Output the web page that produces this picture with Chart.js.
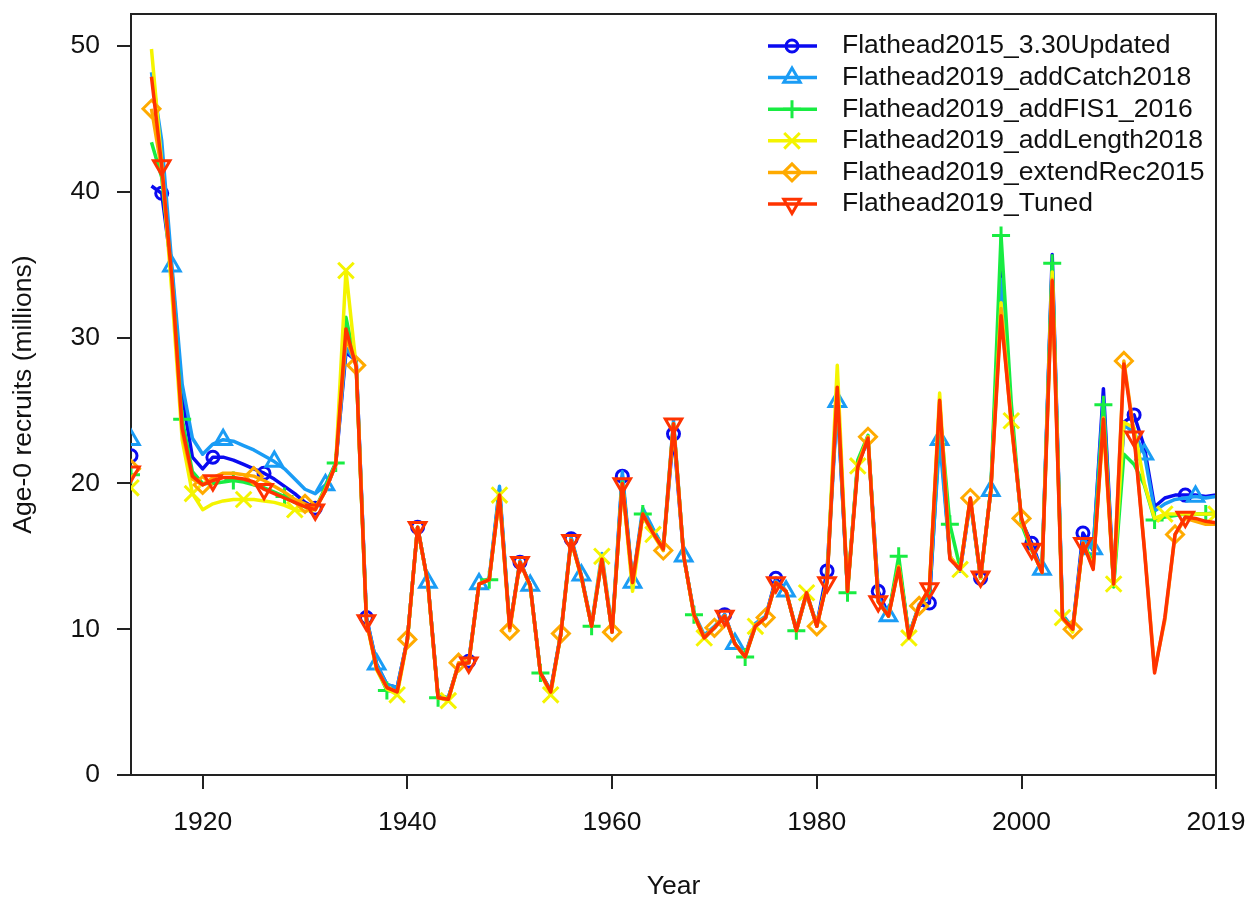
<!DOCTYPE html>
<html>
<head>
<meta charset="utf-8">
<title>Age-0 recruits</title>
<script src="https://cdn.jsdelivr.net/npm/chart.js@4.4.1/dist/chart.umd.min.js"></script>
<style>
  html, body { margin: 0; padding: 0; background: #fff; }
  #wrap { width: 1254px; height: 901px; position: relative; }
</style>
</head>
<body>
<div id="wrap"><canvas id="recruits"></canvas></div>
<script>
// model runs compared
const modelNames = [
  'Flathead2015_3.30Updated',
  'Flathead2019_addCatch2018',
  'Flathead2019_addFIS1_2016',
  'Flathead2019_addLength2018',
  'Flathead2019_extendRec2015',
  'Flathead2019_Tuned'
];

// virgin recruitment is plotted on its own at 1913, the time series starts in 1915
const virginYear = 1913;
const firstYear = 1915;
const virginRec = [21.9, 23.0, 20.6, 19.7, 21.0, 20.8];

// age-0 recruits (millions), 1915-2019
const recUpdated2015 = [
  40.4, 39.9, 34.5, 26.0, 21.8,
  21.0, 21.8, 21.8, 21.6, 21.3, 21.0, 20.7, 20.3, 19.8, 19.3,
  18.7, 18.3, 19.5, 21.3, 29.0, 28.4, 10.8, 7.6, 6.2, 6.0,
  9.3, 17.0, 13.2, 5.4, 5.3, 7.6, 7.8, 13.1, 13.4, 19.6,
  10.1, 14.6, 13.0, 7.0, 5.8, 9.7, 16.2, 13.6, 10.2, 14.9,
  9.8, 20.5, 13.2, 18.0, 16.8, 15.6, 23.4, 15.0, 11.0, 9.5,
  10.1, 11.0, 9.0, 8.2, 10.3, 10.8, 13.5, 12.6, 9.9, 12.4,
  10.3, 14.0, 25.8, 12.7, 21.3, 23.0, 12.6, 11.0, 14.5, 9.6,
  11.6, 11.8, 23.8, 15.0, 14.0, 18.8, 13.5, 19.5, 34.5, 24.5,
  17.4, 15.9, 14.0, 35.7, 11.0, 10.0, 16.6, 15.4, 26.5, 13.2,
  24.2, 24.7, 22.5, 18.4, 19.0, 19.2, 19.2, 19.2, 19.1, 19.2
];
const recAddCatch = [
  48.2, 43.5, 34.9, 26.8, 23.1,
  22.0, 22.7, 23.0, 22.9, 22.6, 22.3, 21.9, 21.5, 21.0, 20.3,
  19.6, 19.3, 19.9, 21.4, 29.3, 28.3, 10.8, 7.6, 6.2, 6.0,
  9.3, 17.0, 13.2, 5.4, 5.3, 7.6, 7.8, 13.1, 13.5, 19.8,
  10.1, 14.7, 13.0, 7.0, 5.8, 9.8, 16.3, 13.7, 10.3, 15.2,
  9.9, 20.8, 13.2, 18.3, 16.9, 15.6, 24.3, 15.0, 11.1, 9.6,
  10.2, 11.0, 9.0, 8.2, 10.4, 10.9, 13.3, 12.6, 10.0, 12.5,
  10.3, 13.5, 25.6, 12.7, 21.4, 23.0, 12.2, 10.9, 14.5, 9.6,
  11.7, 12.3, 23.0, 15.0, 14.0, 18.9, 13.6, 19.5, 34.0, 24.6,
  17.4, 15.6, 14.1, 35.0, 11.0, 10.1, 16.2, 15.5, 25.8, 13.0,
  24.0, 23.5, 22.0, 18.1, 18.6, 18.9, 19.0, 19.1, 19.0, 19.1
];
const recAddFIS = [
  43.4, 41.0, 34.0, 24.4, 20.8,
  20.0, 20.0, 20.1, 20.2, 20.1, 19.9, 19.7, 19.4, 19.1, 18.7,
  18.4, 18.2, 19.8, 21.4, 31.4, 28.0, 10.6, 7.3, 5.8, 5.7,
  9.3, 17.0, 13.2, 5.3, 5.2, 7.6, 7.7, 13.1, 13.4, 19.3,
  10.1, 14.6, 13.0, 7.0, 5.7, 9.7, 16.1, 13.6, 10.2, 14.8,
  9.8, 20.1, 13.1, 17.9, 16.7, 15.5, 24.1, 15.0, 11.0, 9.4,
  10.1, 10.9, 9.0, 8.1, 10.2, 10.8, 13.2, 12.6, 9.9, 12.5,
  10.2, 13.3, 27.0, 12.5, 21.6, 23.3, 11.9, 10.9, 15.0, 9.5,
  11.6, 12.6, 25.0, 17.2, 14.2, 18.9, 13.5, 19.6, 37.0, 25.5,
  17.2, 15.4, 14.0, 35.1, 10.9, 10.0, 15.9, 14.6, 25.4, 12.9,
  22.0, 21.3, 19.9, 17.5, 17.7, 17.8, 17.9, 17.9, 17.9, 18.0
];
const recAddLength = [
  49.8, 42.0, 33.0, 23.0, 19.3,
  18.2, 18.6, 18.8, 18.9, 18.9, 18.9, 18.8, 18.7, 18.5, 18.2,
  18.1, 18.2, 19.5, 21.3, 34.6, 28.0, 10.5, 7.2, 5.9, 5.5,
  9.2, 17.0, 13.1, 5.3, 5.1, 7.6, 7.7, 13.1, 13.4, 19.2,
  10.0, 14.6, 12.9, 7.0, 5.5, 9.7, 16.1, 13.5, 10.2, 15.0,
  9.8, 20.0, 12.6, 17.8, 16.5, 15.4, 24.1, 15.0, 10.9, 9.4,
  10.1, 10.9, 9.0, 8.1, 10.2, 10.8, 13.2, 12.6, 9.9, 12.5,
  10.2, 13.3, 28.1, 12.6, 21.2, 23.2, 11.9, 10.9, 14.3, 9.4,
  11.6, 12.8, 26.2, 15.0, 14.1, 19.0, 13.5, 19.5, 32.4, 24.3,
  17.5, 15.5, 13.9, 34.5, 10.8, 9.8, 15.9, 14.3, 24.0, 13.1,
  24.2, 23.8, 20.0, 17.6, 17.9, 17.9, 17.9, 17.9, 17.9, 17.9
];
const recExtendRec = [
  45.7, 41.5, 34.0, 23.5, 20.3,
  19.9, 20.4, 20.7, 20.7, 20.6, 20.5, 20.2, 19.8, 19.4, 18.9,
  18.6, 18.3, 19.6, 21.3, 30.0, 28.1, 10.6, 7.3, 6.0, 5.7,
  9.3, 17.0, 13.2, 5.3, 5.2, 7.7, 7.7, 13.1, 13.4, 19.2,
  9.9, 14.6, 13.0, 7.0, 5.7, 9.7, 16.1, 13.6, 10.2, 14.8,
  9.8, 20.0, 13.2, 17.9, 16.6, 15.4, 24.0, 15.0, 11.0, 9.5,
  10.1, 10.9, 9.0, 8.1, 10.3, 10.8, 13.2, 12.6, 9.9, 12.4,
  10.2, 13.3, 26.5, 12.7, 21.3, 23.2, 11.9, 10.9, 14.3, 9.5,
  11.6, 12.8, 25.6, 14.9, 14.1, 19.0, 13.6, 19.5, 32.0, 24.0,
  17.6, 15.5, 13.9, 34.0, 10.7, 10.0, 15.9, 14.2, 24.5, 13.2,
  28.4, 23.4, 15.6, 7.2, 10.6, 16.5, 17.6, 17.4, 17.2, 17.2
];
const recTuned = [
  47.9, 41.8, 34.0, 23.8, 20.5,
  19.9, 20.2, 20.4, 20.4, 20.3, 20.1, 19.6, 19.3, 19.0, 18.7,
  18.4, 18.2, 19.5, 21.3, 30.6, 28.0, 10.6, 7.3, 6.0, 5.7,
  9.3, 17.0, 13.2, 5.3, 5.2, 7.6, 7.7, 13.1, 13.4, 19.2,
  10.1, 14.6, 13.0, 7.0, 5.7, 9.7, 16.1, 13.6, 10.2, 14.8,
  9.8, 20.0, 13.2, 17.9, 16.6, 15.5, 24.1, 15.0, 11.0, 9.4,
  10.1, 10.9, 9.0, 8.1, 10.2, 10.8, 13.2, 12.6, 9.9, 12.5,
  10.2, 13.2, 26.6, 12.6, 21.1, 23.1, 11.9, 10.9, 14.2, 9.4,
  11.6, 12.8, 25.7, 14.8, 14.1, 19.0, 13.6, 19.5, 31.5, 24.2,
  17.6, 15.5, 13.9, 33.9, 10.8, 10.0, 15.9, 14.1, 24.4, 13.1,
  28.2, 23.2, 15.5, 7.0, 10.8, 16.5, 17.7, 17.6, 17.4, 17.3
];

const xTicks = [1920, 1940, 1960, 1980, 2000, 2019];
const yTicks = [0, 10, 20, 30, 40, 50];

const series = [recUpdated2015, recAddCatch, recAddFIS, recAddLength, recExtendRec, recTuned];
const colors = ['#0a0af0', '#1a9cf5', '#18ec42', '#f4f400', '#ffaa00', '#ff3300'];
// open symbols, staggered so that each run shows one every five years
const markers = [
  { style: 'circle',   radius: 6,   rotation: 0,   start: 1916 },
  { style: 'triangle', radius: 9.5, rotation: 0,   start: 1917 },
  { style: 'cross',    radius: 9,   rotation: 0,   start: 1918 },
  { style: 'crossRot', radius: 11,  rotation: 0,   start: 1919 },
  { style: 'rectRot',  radius: 8.5, rotation: 0,   start: 1915 },
  { style: 'triangle', radius: 9.5, rotation: 180, start: 1916 }
];
const FONT = '"Liberation Sans", Arial, sans-serif';
const INK = '#222';

function showMarker(year, m) {
  return year === virginYear || (year >= m.start && (year - m.start) % 5 === 0);
}

const datasets = series.map((vals, i) => {
  const m = markers[i];
  const pts = [{ x: virginYear, y: virginRec[i] }, { x: virginYear + 1, y: null }];
  vals.forEach((v, k) => pts.push({ x: firstYear + k, y: v }));
  return {
    label: modelNames[i],
    data: pts,
    borderColor: colors[i],
    backgroundColor: 'rgba(0,0,0,0)',
    borderWidth: 3.5,
    borderJoinStyle: 'round',
    tension: 0,
    spanGaps: false,
    clip: 0,
    pointStyle: m.style,
    pointRotation: m.rotation,
    pointBorderColor: colors[i],
    pointBackgroundColor: 'rgba(0,0,0,0)',
    pointBorderWidth: 3,
    pointRadius: c => (c.raw && showMarker(c.raw.x, m)) ? m.radius : 0,
    pointHoverRadius: c => (c.raw && showMarker(c.raw.x, m)) ? m.radius : 0,
    order: series.length - 1 - i
  };
});

// box around the plot plus the legend in the top right corner
const frameAndLegend = {
  id: 'frameAndLegend',
  afterDraw(chart) {
    const { ctx, chartArea: a } = chart;
    ctx.save();
    ctx.strokeStyle = INK;
    ctx.lineWidth = 2;
    ctx.beginPath();
    ctx.moveTo(a.left, a.top);
    ctx.lineTo(a.right, a.top);
    ctx.lineTo(a.right, a.bottom);
    ctx.stroke();

    const lx = a.right - 448;
    ctx.font = '26.5px ' + FONT;
    ctx.textBaseline = 'middle';
    modelNames.forEach((name, i) => {
      const y = a.top + 32 + i * 31.6;
      ctx.strokeStyle = colors[i];
      ctx.lineWidth = 3.5;
      ctx.beginPath();
      ctx.moveTo(lx, y);
      ctx.lineTo(lx + 49, y);
      ctx.stroke();
      ctx.lineWidth = 3;
      ctx.fillStyle = 'rgba(0,0,0,0)';
      Chart.helpers.drawPoint(ctx, {
        pointStyle: markers[i].style,
        rotation: markers[i].rotation,
        radius: markers[i].radius,
        borderWidth: 3
      }, lx + 24, y);
      ctx.fillStyle = '#111';
      ctx.fillText(name, lx + 74, y);
    });
    ctx.restore();
  }
};

new Chart(document.getElementById('recruits'), {
  type: 'line',
  data: { datasets },
  plugins: [frameAndLegend],
  options: {
    responsive: true,
    maintainAspectRatio: false,
    animation: false,
    layout: { padding: { left: 0, top: 7, right: 38, bottom: 0 } },
    plugins: {
      legend: { display: false },
      tooltip: { enabled: false }
    },
    scales: {
      x: {
        type: 'linear',
        min: virginYear,
        max: 2019,
        afterBuildTicks: s => { s.ticks = xTicks.map(v => ({ value: v })); },
        afterFit: s => { s.height = 126; s.paddingLeft = 0; s.paddingRight = 0; },
        grid: { drawOnChartArea: false, drawTicks: true, tickLength: 14, color: INK, lineWidth: 2 },
        border: { display: true, color: INK, width: 2 },
        ticks: {
          autoSkip: false, maxRotation: 0, padding: 18,
          color: '#111', font: { family: FONT, size: 26.5 },
          callback: v => String(v)
        },
        title: {
          display: true, text: 'Year', color: '#111',
          font: { family: FONT, size: 26.5, lineHeight: 1 },
          padding: { top: 0, bottom: 1 }
        }
      },
      y: {
        min: 0,
        max: 52.2,
        afterBuildTicks: s => { s.ticks = yTicks.map(v => ({ value: v })); },
        afterFit: s => { s.width = 131; s.paddingTop = 0; s.paddingBottom = 0; },
        grid: { drawOnChartArea: false, drawTicks: true, tickLength: 14, color: INK, lineWidth: 2 },
        border: { display: true, color: INK, width: 2 },
        ticks: {
          padding: 17,
          color: '#111', font: { family: FONT, size: 26.5 },
          callback: v => String(v)
        },
        title: {
          display: true, text: 'Age-0 recruits (millions)', color: '#111',
          font: { family: FONT, size: 26.5, lineHeight: 1 },
          padding: { top: 10, bottom: 0 }
        }
      }
    }
  }
});
</script>
</body>
</html>
